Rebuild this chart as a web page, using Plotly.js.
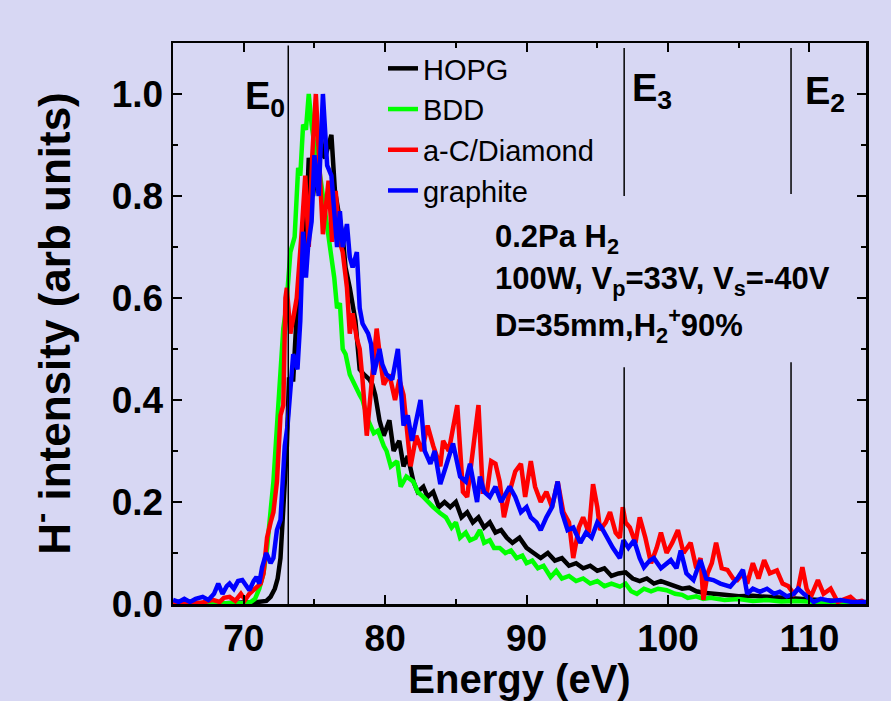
<!DOCTYPE html>
<html>
<head>
<meta charset="utf-8">
<script src="https://cdn.plot.ly/plotly-3.0.1.min.js"></script>
<style>html,body{margin:0;padding:0;background:#d7d7f3;}#chart{width:891px;height:701px;}</style>
</head>
<body>
<div id="chart"></div>
<script>
// ---- data ----
const seriesNames = ['HOPG', 'BDD', 'a-C/Diamond', 'graphite'];
const seriesColors = ['#000000', '#00ff00', '#ff0000', '#0000ff'];

const hopg = [[65,0.002],[66,0.0],[67,0.002],[68,0.0],[69,0.002],[70,0.002],[71,0.004],[71.6,0.006],[71.9,0.014],[72.2,0.03],[72.4,0.05],[72.6,0.09],[72.8,0.18],[73.05,0.31],[73.2,0.44],[73.5,0.44],[73.75,0.57],[74.1,0.70],[74.3,0.66],[74.5,0.83],[74.6,0.875],[74.9,0.80],[75.1,0.86],[75.4,0.93],[75.6,0.88],[75.75,0.875],[76.0,0.90],[76.2,0.92],[76.45,0.81],[76.8,0.745],[77.0,0.72],[77.2,0.66],[77.5,0.62],[77.9,0.555],[78.2,0.46],[78.5,0.45],[78.9,0.44],[79.1,0.43],[79.3,0.41],[79.6,0.36],[79.9,0.33],[80.3,0.36],[80.6,0.30],[81.0,0.32],[81.3,0.27],[81.6,0.29],[82.0,0.24],[82.3,0.22],[82.7,0.23],[83.0,0.21],[83.4,0.22],[83.8,0.19],[84.2,0.20],[84.6,0.19],[85.0,0.20],[85.4,0.17],[85.8,0.18],[86.2,0.16],[86.6,0.17],[87.0,0.15],[87.4,0.16],[87.8,0.14],[88.2,0.145],[88.6,0.13],[89.0,0.12],[89.5,0.13],[90.0,0.11],[90.5,0.10],[91.0,0.09],[91.5,0.10],[92.0,0.085],[92.5,0.09],[93.0,0.075],[93.5,0.08],[94.0,0.07],[94.5,0.075],[95.0,0.065],[95.5,0.07],[96.0,0.055],[96.5,0.06],[97.0,0.062],[97.5,0.05],[98.0,0.045],[98.5,0.05],[99.0,0.04],[99.5,0.045],[100.0,0.04],[100.5,0.035],[101.0,0.03],[101.5,0.032],[102.0,0.025],[102.5,0.022],[103.0,0.02],[104.0,0.018],[105.0,0.015],[106.0,0.016],[107.0,0.014],[108.0,0.012],[109.0,0.01],[110.0,0.008],[111.0,0.006],[112.0,0.004],[113.0,0.004],[114.0,0.003]];

const bdd = [[65,0],[66,0],[67,0.002],[68,0],[69,0.002],[70,0.002],[70.5,0.004],[70.8,0.01],[71.1,0.03],[71.4,0.06],[71.65,0.11],[71.9,0.18],[72.1,0.24],[72.4,0.37],[72.6,0.45],[72.8,0.54],[73.0,0.58],[73.3,0.69],[73.6,0.72],[73.85,0.855],[74.0,0.84],[74.2,0.94],[74.4,0.93],[74.6,1.0],[74.8,0.94],[75.0,0.90],[75.3,0.86],[75.6,0.80],[75.9,0.75],[76.1,0.71],[76.4,0.64],[76.6,0.58],[76.8,0.59],[77.0,0.50],[77.2,0.49],[77.5,0.45],[77.9,0.425],[78.2,0.41],[78.4,0.40],[78.8,0.36],[79.2,0.335],[79.5,0.34],[79.9,0.31],[80.1,0.30],[80.4,0.27],[80.85,0.28],[81.1,0.23],[81.5,0.25],[82.0,0.24],[82.3,0.22],[82.7,0.21],[83.0,0.20],[83.4,0.19],[83.9,0.178],[84.3,0.17],[84.7,0.15],[85.0,0.16],[85.3,0.13],[85.7,0.14],[86.0,0.125],[86.4,0.13],[86.7,0.145],[87.0,0.12],[87.4,0.125],[87.7,0.11],[88.1,0.11],[88.5,0.10],[88.9,0.105],[89.3,0.09],[89.7,0.095],[90.0,0.08],[90.4,0.085],[90.8,0.07],[91.2,0.075],[91.7,0.053],[92.1,0.065],[92.5,0.05],[93.0,0.055],[93.5,0.045],[94.0,0.05],[94.5,0.04],[95.0,0.045],[95.5,0.035],[96.0,0.04],[96.6,0.034],[97.0,0.04],[97.4,0.025],[97.8,0.02],[98.3,0.03],[98.8,0.025],[99.3,0.03],[99.9,0.027],[100.5,0.02],[101.0,0.018],[101.4,0.012],[102,0.015],[102.5,0.01],[103,0.012],[104,0.008],[105,0.01],[106,0.006],[107,0.008],[108,0.005],[109,0.006],[110,0.004],[111,0.003],[112,0.002],[113,0.002],[114,0.001]];

const acDiamond = [[65,0.002],[66,0.004],[67,0.002],[67.8,0.008],[68.3,0.004],[68.6,0.012],[69,0.014],[69.4,0.006],[69.8,0.02],[70.1,0.008],[70.4,0.02],[70.8,0.03],[71.2,0.04],[71.4,0.06],[71.65,0.13],[71.9,0.16],[72.1,0.18],[72.35,0.24],[72.6,0.37],[72.8,0.39],[72.95,0.6],[73.05,0.62],[73.3,0.53],[73.5,0.56],[73.75,0.60],[74.1,0.73],[74.35,0.84],[74.6,0.70],[74.85,0.88],[75.1,1.0],[75.4,0.83],[75.6,0.725],[76.0,0.83],[76.25,0.71],[76.5,0.81],[76.8,0.71],[77.0,0.69],[77.3,0.62],[77.5,0.53],[77.7,0.57],[78.0,0.52],[78.2,0.50],[78.4,0.44],[78.7,0.33],[79.0,0.42],[79.4,0.54],[79.7,0.47],[79.9,0.43],[80.3,0.45],[80.7,0.40],[81.0,0.44],[81.3,0.41],[81.8,0.27],[82.2,0.33],[82.6,0.30],[83.0,0.35],[83.4,0.31],[83.9,0.27],[84.1,0.32],[84.5,0.30],[85.1,0.39],[85.5,0.22],[85.8,0.21],[86.2,0.30],[86.6,0.39],[86.9,0.22],[87.2,0.22],[87.5,0.28],[87.8,0.275],[88.1,0.24],[88.4,0.17],[88.8,0.22],[89.2,0.26],[89.6,0.275],[89.9,0.21],[90.3,0.28],[90.6,0.23],[91.0,0.20],[91.4,0.22],[91.8,0.19],[92.2,0.24],[92.6,0.18],[93.0,0.16],[93.3,0.09],[93.7,0.15],[94.0,0.17],[94.4,0.14],[94.7,0.235],[95.0,0.19],[95.2,0.145],[95.6,0.16],[95.9,0.18],[96.3,0.14],[96.6,0.13],[96.8,0.19],[97.0,0.16],[97.3,0.15],[97.7,0.12],[98.0,0.17],[98.4,0.13],[98.8,0.08],[99.2,0.11],[99.5,0.14],[99.9,0.10],[100.3,0.12],[100.7,0.145],[101.1,0.10],[101.6,0.12],[102.0,0.07],[102.3,0.09],[102.5,0.008],[102.8,0.06],[103.1,0.08],[103.4,0.12],[103.8,0.07],[104.2,0.067],[104.6,0.05],[104.9,0.047],[105.3,0.06],[105.6,0.04],[106.0,0.08],[106.4,0.05],[106.8,0.086],[107.2,0.06],[107.7,0.066],[108.1,0.04],[108.5,0.035],[108.9,0.02],[109.2,0.03],[109.5,0.072],[109.8,0.03],[110.1,0.014],[110.6,0.047],[111.0,0.02],[111.5,0.03],[112.0,0.004],[112.5,0.01],[112.9,0.014],[113.3,0.004],[113.7,0.006],[114,0.002]];

const graphite = [[65,0.008],[65.4,0.004],[65.8,0.01],[66.2,0.004],[66.6,0.01],[67.1,0.014],[67.5,0.008],[67.9,0.02],[68.2,0.04],[68.5,0.02],[68.8,0.035],[69.0,0.04],[69.3,0.03],[69.6,0.045],[69.9,0.047],[70.2,0.035],[70.4,0.027],[70.7,0.045],[70.9,0.053],[71.1,0.04],[71.3,0.072],[71.6,0.1],[71.9,0.08],[72.1,0.09],[72.35,0.145],[72.6,0.165],[72.9,0.31],[73.1,0.35],[73.3,0.41],[73.5,0.49],[73.8,0.46],[74.0,0.555],[74.2,0.73],[74.4,0.64],[74.55,0.70],[74.8,0.75],[75.0,0.88],[75.3,0.80],[75.6,1.0],[75.9,0.86],[76.2,0.84],[76.4,0.78],[76.6,0.70],[76.8,0.77],[77.0,0.70],[77.3,0.745],[77.5,0.68],[77.7,0.66],[78.0,0.69],[78.2,0.58],[78.4,0.55],[78.8,0.53],[79.0,0.51],[79.2,0.45],[79.6,0.50],[79.8,0.47],[80.1,0.45],[80.5,0.44],[80.9,0.50],[81.3,0.35],[81.6,0.37],[81.9,0.32],[82.2,0.36],[82.5,0.40],[82.8,0.30],[83.2,0.275],[83.5,0.30],[83.9,0.235],[84.3,0.27],[84.8,0.315],[85.3,0.25],[85.7,0.24],[86.0,0.275],[86.5,0.20],[86.7,0.25],[87.0,0.22],[87.4,0.21],[87.8,0.23],[88.2,0.20],[88.8,0.23],[89.2,0.21],[89.6,0.18],[90.0,0.19],[90.3,0.17],[90.7,0.16],[91.0,0.145],[91.4,0.17],[91.8,0.19],[92.2,0.24],[92.5,0.18],[92.9,0.145],[93.3,0.15],[93.8,0.12],[94.2,0.14],[94.6,0.13],[95.0,0.16],[95.3,0.15],[95.7,0.13],[96.1,0.11],[96.6,0.09],[96.85,0.125],[97.2,0.11],[97.6,0.125],[98.0,0.09],[98.3,0.072],[98.7,0.085],[99.0,0.09],[99.5,0.07],[99.9,0.08],[100.2,0.086],[100.6,0.07],[100.9,0.105],[101.3,0.06],[101.8,0.047],[102.3,0.086],[102.7,0.05],[103.2,0.047],[103.7,0.04],[104.4,0.034],[104.9,0.05],[105.3,0.067],[105.6,0.02],[106.0,0.03],[106.5,0.024],[107.0,0.03],[107.5,0.02],[107.9,0.024],[108.4,0.015],[108.9,0.02],[109.2,0.03],[109.6,0.02],[110.0,0.012],[110.3,0.004],[110.8,0.01],[111.5,0.006],[112.2,0.008],[113,0.004],[114,0.004]];

// characteristic energies marked by vertical lines
const markerEnergies = [73.15, 96.9, 108.7];
const markerLabels = ['E<sub>0</sub>', 'E<sub>3</sub>', 'E<sub>2</sub>'];

const conditionLines = ['0.2Pa H<sub>2</sub>', '100W, V<sub>p</sub>=33V, V<sub>s</sub>=-40V', 'D=35mm,H<sub>2</sub><sup>+</sup>90%'];

// ---- build chart ----
const FONT = 'Arial, "Liberation Sans", sans-serif';
const bg = '#d7d7f3';
const allSeries = [hopg, bdd, acDiamond, graphite];

const traces = allSeries.map((s, i) => ({
  type: 'scatter', mode: 'lines', name: seriesNames[i],
  x: s.map(p => p[0]), y: s.map(p => p[1]),
  line: {color: seriesColors[i], width: 4.5},
  legendgroup: 'g' + i
}));

const shapes = [
  {type:'line', xref:'x', yref:'y', x0:markerEnergies[0], x1:markerEnergies[0], y0:0, y1:1.095, line:{color:'black', width:1.5}},
  {type:'line', xref:'x', yref:'y', x0:markerEnergies[1], x1:markerEnergies[1], y0:0, y1:0.464, line:{color:'black', width:1.5}},
  {type:'line', xref:'x', yref:'y', x0:markerEnergies[1], x1:markerEnergies[1], y0:0.80, y1:1.09, line:{color:'black', width:1.5}},
  {type:'line', xref:'x', yref:'y', x0:markerEnergies[2], x1:markerEnergies[2], y0:0, y1:0.474, line:{color:'black', width:1.5}},
  {type:'line', xref:'x', yref:'y', x0:markerEnergies[2], x1:markerEnergies[2], y0:0.804, y1:1.09, line:{color:'black', width:1.5}}
];

const bigFont = {family: FONT, size: 38, color: 'black', weight: 'bold'};
const annFont = {family: FONT, size: 31, color: 'black', weight: 'bold'};
const annotations = [
  {xref:'x', yref:'y', x:markerEnergies[0], y:0.99, xanchor:'right', yanchor:'middle', text:markerLabels[0], showarrow:false, font:bigFont, xshift:-1},
  {xref:'x', yref:'y', x:markerEnergies[1], y:1.005, xanchor:'left', yanchor:'middle', text:markerLabels[1], showarrow:false, font:bigFont, xshift:6},
  {xref:'x', yref:'y', x:markerEnergies[2], y:1.0, xanchor:'left', yanchor:'middle', text:markerLabels[2], showarrow:false, font:bigFont, xshift:12},
  {xref:'x', yref:'y', x:87.6, y:0.716, xanchor:'left', yanchor:'middle', text:conditionLines[0], showarrow:false, font:annFont, align:'left'},
  {xref:'x', yref:'y', x:87.6, y:0.634, xanchor:'left', yanchor:'middle', text:conditionLines[1], showarrow:false, font:annFont, align:'left'},
  {xref:'x', yref:'y', x:87.6, y:0.546, xanchor:'left', yanchor:'middle', text:conditionLines[2], showarrow:false, font:annFont, align:'left'}
];

const axisCommon = {
  showline: true, linecolor: 'black', linewidth: 2.5, mirror: 'allticks',
  ticks: 'inside', ticklen: 9, tickwidth: 2, tickcolor: 'black',
  showgrid: false, zeroline: false,
  tickfont: {family: FONT, size: 37, color: 'black', weight: 'bold'}
};

const layout = {
  width: 891, height: 701,
  paper_bgcolor: bg, plot_bgcolor: bg,
  margin: {l: 173, r: 25, t: 43, b: 97},
  showlegend: true,
  legend: {x: 0.303, y: 1.0, xanchor: 'left', yanchor: 'top', bgcolor: 'rgba(0,0,0,0)',
           font: {family: FONT, size: 29, color: 'black'}, tracegroupgap: 1, traceorder: 'normal'},
  xaxis: Object.assign({}, axisCommon, {
    range: [65, 114], tick0: 70, dtick: 10,
    minor: {dtick: 5, tick0: 65, ticks: 'inside', ticklen: 5, tickwidth: 2, tickcolor: 'black'},
    title: {text: 'Energy (eV)', font: {family: FONT, size: 40, color: 'black', weight: 'bold'}, standoff: 0}
  }),
  yaxis: Object.assign({}, axisCommon, {
    range: [0, 1.1], tick0: 0, dtick: 0.2, tickformat: '.1f',
    minor: {dtick: 0.1, tick0: 0, ticks: 'inside', ticklen: 5, tickwidth: 2, tickcolor: 'black'},
    title: {text: 'H<sup>-</sup> intensity (arb units)', font: {family: FONT, size: 44, color: 'black', weight: 'bold'}, standoff: 28}
  }),
  shapes: shapes,
  annotations: annotations
};

Plotly.newPlot('chart', traces, layout, {displayModeBar: false, staticPlot: true});
</script>
</body>
</html>
